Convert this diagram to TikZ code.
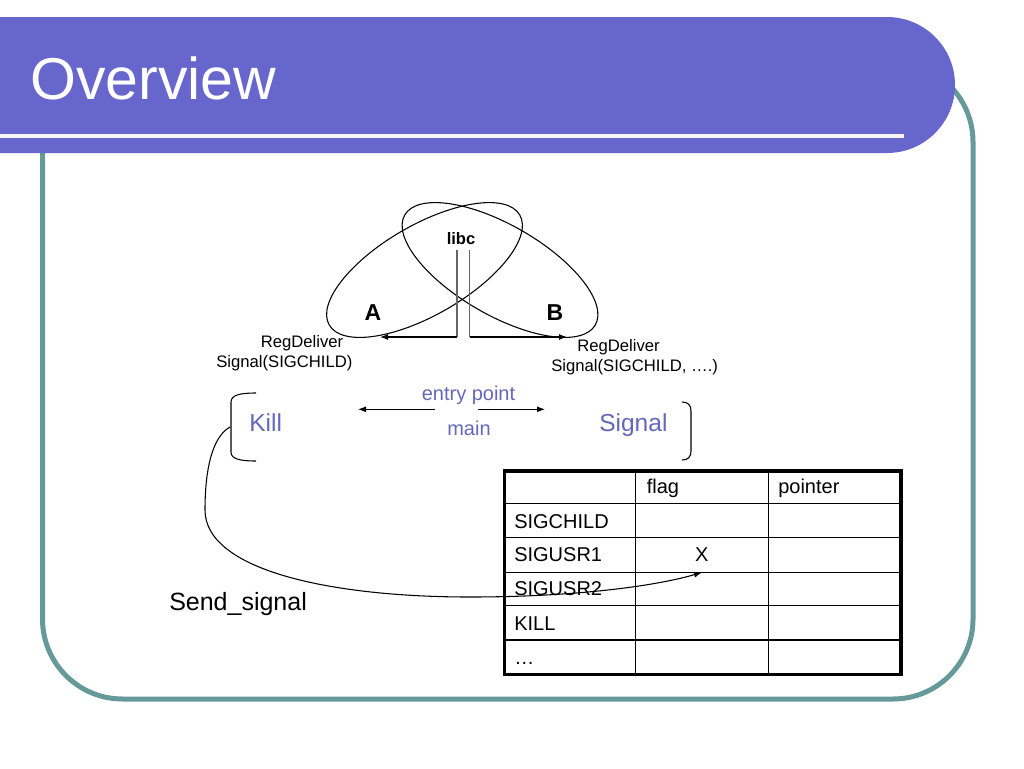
\documentclass[tikz,border=0pt]{standalone}
\usepackage{fontspec}
\setmainfont{Liberation Sans}
\usetikzlibrary{arrows.meta,shapes.geometric}
\definecolor{barblue}{HTML}{6666CC}
\definecolor{txtblue}{HTML}{6666BB}
\definecolor{frameteal}{HTML}{669999}
\newcommand\myfs[1]{\fontsize{#1}{#1}\selectfont}
\begin{document}
\begin{tikzpicture}[x=0.75pt,y=-0.75pt,
  lbl/.style={inner sep=0pt, anchor=base west},
  clbl/.style={inner sep=0pt, anchor=base},
  arr/.style={-{Latex[length=6pt,width=4.5pt]}, line width=0.8pt},
  thinline/.style={line width=0.8pt},
  grayline/.style={line width=0.9pt, black!60},
  ell/.style={ellipse, draw, line width=0.8pt, minimum width=165pt, minimum height=67.5pt, inner sep=0pt},
  cell/.style={lbl, font=\myfs{15}},
  bluetxt/.style={text=txtblue}]
\useasboundingbox (0,0) rectangle (1024,768);
% frame and title bar
\draw[line width=3.75pt, frameteal, rounded corners=60pt] (42.5,62) rectangle (973,699);
\fill[barblue] (0,17) -- (887,17) arc[start angle=-90, end angle=90, radius=68] -- (0,153) -- cycle;
\draw[line width=2.6pt, white!94!barblue] (0,136) -- (904,136);
\node[lbl, text=white, font=\myfs{44.25}] (title) at (30,99) {Overview};
% ellipses
\node[ell, rotate=30] (ellA) at (424.5,270) {};
\node[ell, rotate=-30] (ellB) at (500,270) {};
\node[clbl, font=\bfseries\myfs{12.4}] (libc) at (461,244.3) {libc};
\node[clbl, font=\bfseries\myfs{17.25}] (A) at (373,320) {A};
\node[clbl, font=\bfseries\myfs{17.25}] (B) at (555,320) {B};
\coordinate (v1t) at (457,250);
\coordinate (v1b) at (457,337);
\coordinate (v2t) at (469.5,250);
\coordinate (v2b) at (469.5,337);
\coordinate (tipA) at (380,337);
\coordinate (tipB) at (567,337);
\draw[grayline] (v1t) -- (v1b);
\draw[grayline] (v2t) -- (v2b);
\draw[arr] (v1b) -- (tipA);
\draw[arr] (v2b) -- (tipB);
\node[lbl, font=\myfs{12.5}] (rdA1) at (260.5,347.7) {RegDeliver};
\node[lbl, font=\myfs{12.5}] (rdA2) at (216,367.7) {Signal(SIGCHILD)};
\node[lbl, font=\myfs{12.5}] (rdB1) at (577,351.7) {RegDeliver};
\node[lbl, font=\myfs{12.5}] (rdB2) at (551,371.7) {Signal(SIGCHILD, ….)};
% Kill / Signal
\node[lbl, bluetxt, font=\myfs{18.4}] (kill) at (249,431.7) {Kill};
\node[lbl, bluetxt, font=\myfs{18.4}] (signal) at (599,431.7) {Signal};
\node[clbl, bluetxt, font=\myfs{15}] (entry) at (468.5,400) {entry point};
\node[clbl, bluetxt, font=\myfs{15}] (main) at (469,435) {main};
\coordinate (eL0) at (435,409.3);
\coordinate (eL1) at (358,409.3);
\coordinate (eR0) at (478,409.3);
\coordinate (eR1) at (545,409.3);
\draw[arr] (eL0) -- (eL1);
\draw[arr] (eR0) -- (eR1);
\draw[thinline] (256,393) .. controls (240,393) and (231,395) .. (231,402) -- (231,452) .. controls (231,459) and (240,461) .. (256,461);
\draw[thinline] (682,402) .. controls (688,402) and (691,405) .. (691,411) -- (691,451) .. controls (691,457) and (688,460) .. (682,460);
% table
\foreach \yy in {503.3,537.7,572.3,605.7,640} \draw[line width=1.1pt] (504.3,\yy) -- (901,\yy);
\foreach \xx in {635.7,768.3} \draw[line width=1.1pt] (\xx,471) -- (\xx,674.3);
\draw[line width=2.6pt] (504.3,471) rectangle (901,674.3);
\node[cell] (hflag) at (646.5,493.3) {flag};
\node[cell] (hptr) at (778,493.3) {pointer};
\node[cell] (r1) at (514,528.3) {SIGCHILD};
\node[cell] (r2) at (514,561.7) {SIGUSR1};
\node[cell] (r3) at (514,595) {SIGUSR2};
\node[cell] (r4) at (514,630) {KILL};
\node[cell] (r5) at (514,664) {…};
\node[clbl, font=\myfs{15}] (xmark) at (701.7,561.7) {X};
% send signal curve
\coordinate (killmid) at (230,427);
\coordinate (xtip) at (702,572.3);
\draw[arr] (killmid) .. controls (212,437) and (205,470) .. (205,510) .. controls (205,570) and (330,597) .. (470,597) .. controls (580,597) and (660,585) .. (xtip);
\node[lbl, font=\myfs{18.75}] (send) at (169,610) {Send\_signal};
\end{tikzpicture}
\end{document}
